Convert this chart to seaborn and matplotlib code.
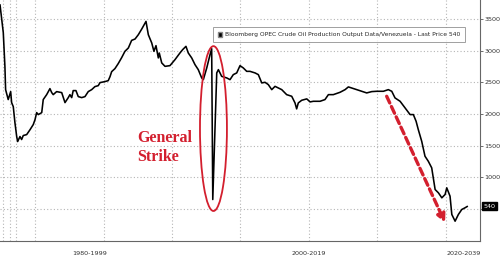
import matplotlib
matplotlib.use("Agg")
import matplotlib.pyplot as plt
import seaborn as sns
import pandas as pd
from matplotlib.patches import Ellipse, Patch

sns.set_style("white")
plt.rcParams['font.family'] = ['DejaVu Sans']

# ---- data (year, thousand barrels/day) ----
years = [1987.43, 1987.62, 1987.67, 1987.79, 1987.84, 1988.03, 1988.21, 1988.28, 1988.40, 1988.52,
         1988.65, 1988.72, 1988.89, 1989.01, 1989.13, 1989.38, 1989.63, 1989.86, 1989.99, 1990.11,
         1990.23, 1990.48, 1990.59, 1990.84, 1991.08, 1991.21, 1991.32, 1991.57, 1991.94, 1992.18,
         1992.42, 1992.54, 1992.67, 1992.78, 1992.98, 1993.15, 1993.40, 1993.64, 1993.88, 1994.13,
         1994.37, 1994.61, 1994.74, 1995.10, 1995.34, 1995.47, 1995.59, 1995.83, 1996.07, 1996.32,
         1996.56, 1996.81, 1997.05, 1997.30, 1997.54, 1997.79, 1998.10, 1998.27, 1998.52, 1998.68,
         1998.83, 1999.00, 1999.07, 1999.25, 1999.49, 1999.85, 2000.22, 2000.58, 2000.78, 2001.02,
         2001.19, 2001.44, 2001.68, 2001.92, 2002.17, 2002.29, 2002.54, 2002.78, 2002.90, 2002.98,
         2003.27, 2003.39, 2003.63, 2004.00, 2004.24, 2004.48, 2004.73, 2004.97, 2005.21, 2005.46,
         2005.70, 2006.07, 2006.31, 2006.56, 2006.80, 2007.04, 2007.29, 2007.53, 2007.77, 2008.02,
         2008.38, 2008.75, 2008.99, 2009.11, 2009.23, 2009.48, 2009.85, 2010.09, 2010.33, 2010.82,
         2011.18, 2011.43, 2011.79, 2012.28, 2012.65, 2012.89, 2013.26, 2013.50, 2013.87, 2014.23,
         2014.60, 2014.96, 2015.45, 2015.81, 2016.06, 2016.30, 2016.67, 2017.03, 2017.40, 2017.64,
         2017.84, 2018.00, 2018.25, 2018.49, 2018.73, 2018.98, 2019.23, 2019.47, 2019.72, 2019.96,
         2020.08, 2020.32, 2020.45, 2020.69, 2020.93, 2021.18, 2021.42, 2021.59]
output = [3726, 3378, 3284, 2747, 2384, 2227, 2353, 2179, 2116, 1864,
          1643, 1564, 1643, 1596, 1659, 1674, 1753, 1832, 1911, 2021,
          1990, 2021, 2227, 2305, 2400, 2337, 2305, 2353, 2337, 2179,
          2258, 2305, 2258, 2369, 2369, 2274, 2258, 2274, 2353, 2384,
          2432, 2447, 2495, 2511, 2526, 2589, 2668, 2716, 2795, 2889,
          2989, 3042, 3162, 3184, 3252, 3342, 3462, 3252, 3121, 2989,
          3079, 2885, 2963, 2806, 2752, 2763, 2858, 2963, 3016, 3068,
          2963, 2885, 2779, 2700, 2569, 2542, 2727, 2937, 3031, 648,
          2648, 2700, 2594, 2569, 2542, 2621, 2648, 2763, 2727, 2673,
          2673, 2648, 2621, 2490, 2500, 2463, 2384, 2436, 2411, 2384,
          2305, 2279, 2174, 2080, 2174, 2216, 2238, 2190, 2200, 2200,
          2227, 2305, 2305, 2342, 2384, 2427, 2400, 2384, 2358, 2332,
          2353, 2358, 2358, 2384, 2358, 2253, 2200, 2096, 1990, 1990,
          1884, 1753, 1568, 1332, 1253, 1149, 806, 754, 675, 728,
          833, 701, 412, 306, 412, 491, 518, 540]

y_ticks = [500, 1000, 1500, 2000, 2500, 3000, 3500]
y_tick_labels = ["", "1000", "1500", "2000", "2500", "3000", "3500"]
x_grid = [1987.65, 1988.16, 1988.6, 1990, 1995, 2000, 2005, 2010, 2015, 2020]
x_major = [1988.2, 2000, 2020]
period_labels = ["1980-1999", "2000-2019", "2020-2039"]
period_label_x = [1994.0, 2010.0, 2021.35]
last_price = 540
legend_label = "Bloomberg OPEC Crude Oil Production Output Data/Venezuela - Last Price 540"
annotation = "General\nStrike"

RED = "#d31f2e"

df = pd.DataFrame({"year": years, "output": output})

fig = plt.figure(figsize=(5.0, 2.57), dpi=100)
ax = fig.add_axes([0.0, 0.064, 0.96, 0.936])

for yv in y_ticks:
    ax.axhline(yv, color="#b5b5b5", lw=0.8, ls=(0, (1, 2)), zorder=0)
for xv in x_grid:
    ax.axvline(xv, color="#b5b5b5", lw=0.8, ls=(0, (1, 2)), zorder=0)

sns.lineplot(data=df, x="year", y="output", ax=ax, color="black", lw=1.15,
             estimator=None, sort=False, legend=False, zorder=3)

ax.set_xlim(1987.43, 2022.51)
ax.set_ylim(0, 3800)

# axes styling
for s in ["left", "top"]:
    ax.spines[s].set_visible(False)
for s in ["right", "bottom"]:
    ax.spines[s].set_color("#666666")
    ax.spines[s].set_linewidth(0.8)

ax.yaxis.tick_right()
ax.set_yticks(y_ticks)
ax.set_yticklabels(y_tick_labels)
ax.tick_params(axis="y", direction="out", length=2, width=0.6, colors="#555555",
               labelsize=4.6, labelcolor="#333333", pad=1)
ax.set_xticks(x_major)
ax.set_xticklabels([])
ax.set_xticks(list(range(1988, 2023)), minor=True)
ax.tick_params(axis="x", which="major", direction="out", length=12, width=0.6, colors="#666666")
ax.tick_params(axis="x", which="minor", direction="out", length=2, width=0.5, colors="#888888")
ax.set_xlabel("")
ax.set_ylabel("")

for lab, xv in zip(period_labels, period_label_x):
    ax.text(xv, -0.052, lab, transform=ax.get_xaxis_transform(), ha="center", va="center",
            fontsize=4.6, color="#333333", clip_on=False)

# last price tag
ax.annotate(str(last_price), xy=(1.0, last_price), xycoords=("axes fraction", "data"),
            xytext=(2.5, 0), textcoords="offset points", ha="left", va="center",
            fontsize=4.6, color="white",
            bbox=dict(boxstyle="square,pad=0.25", fc="black", ec="black"), annotation_clip=False)

# legend
leg = ax.legend(handles=[Patch(facecolor="black", edgecolor="#888888", label=legend_label)],
                loc="upper left", bbox_to_anchor=(0.444, 0.886), fontsize=4.35, frameon=True,
                fancybox=False, edgecolor="#888888", handlelength=0.8, handleheight=0.8,
                handletextpad=0.4, borderpad=0.75, borderaxespad=0)
leg.get_frame().set_linewidth(0.7)

# ellipse around general strike
ax.add_patch(Ellipse((2003.03, 1769), width=1.97, height=2604, fill=False,
                     edgecolor=RED, lw=1.3, zorder=4))
ax.text(1997.44, 1470, annotation, ha="left", va="center", color=RED,
        fontsize=11.5, fontweight="bold", family=["Liberation Serif", "DejaVu Serif"],
        linespacing=1.3)

# dashed arrow
ax.annotate("", xy=(2019.96, 281), xytext=(2015.69, 2279),
            arrowprops=dict(arrowstyle="-|>", color=RED, lw=2.4, linestyle=(0, (2.2, 1.2)),
                            mutation_scale=12, shrinkA=0, shrinkB=0), zorder=5)

fig.savefig("out.png", dpi=100)
